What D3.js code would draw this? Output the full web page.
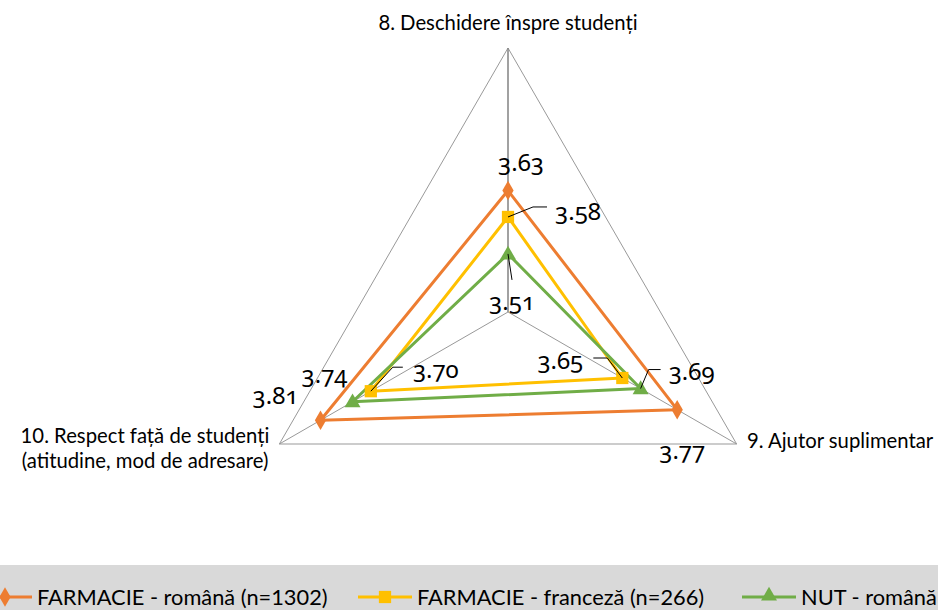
<!DOCTYPE html>
<html>
<head>
<meta charset="utf-8">
<script src="https://cdn.jsdelivr.net/npm/d3@7"></script>
<style>
  html, body { margin: 0; padding: 0; background: #fff; }
  svg text { font-family: Lato, "Noto Sans", sans-serif; fill: #000; }
  svg text.dl { font-family: "Noto Sans", Lato, sans-serif; font-feature-settings: "onum" 1; font-variant-numeric: oldstyle-nums; }
</style>
</head>
<body>
<svg id="chart" width="938" height="610"></svg>
<script>
// ---- data ----
const categories = [
  ["8. Deschidere înspre studenți"],
  ["9. Ajutor suplimentar"],
  ["10. Respect față de studenți", "(atitudine, mod de adresare)"]
];
const seriesNames = ["FARMACIE - română (n=1302)", "FARMACIE - franceză (n=266)", "NUT - română"];
const farmacieRomana = [3.63, 3.77, 3.81];
const farmacieFranceza = [3.58, 3.65, 3.70];
const nutRomana = [3.51, 3.69, 3.74];
const axisMin = 3.4, axisMax = 3.9;

// ---- layout / style ----
const W = 938, H = 610;
const cx = 508, cy = 312, R = 264;
const colors = ["#ED7D31", "#FFC000", "#70AD47"];
const shapes = [d3.symbolDiamond, d3.symbolSquare, d3.symbolTriangle];
const seriesValues = [farmacieRomana, farmacieFranceza, nutRomana];

const svg = d3.select("#chart");
const r = d3.scaleLinear().domain([axisMin, axisMax]).range([0, R]);
const angle = d3.scaleLinear().domain([0, categories.length]).range([0, 2 * Math.PI]);
const pt = (i, v) => [cx + r(v) * Math.sin(angle(i)), cy - r(v) * Math.cos(angle(i))];

// grid
const outer = categories.map((c, i) => pt(i, axisMax));
svg.append("polygon")
  .attr("points", outer.map(p => p.join(",")).join(" "))
  .attr("fill", "none").attr("stroke", "#999").attr("stroke-width", 1);
categories.forEach((c, i) => {
  svg.append("line")
    .attr("x1", cx).attr("y1", cy)
    .attr("x2", outer[i][0]).attr("y2", outer[i][1])
    .attr("stroke", i === 0 ? "#8a8a8a" : "#999")
    .attr("stroke-width", i === 0 ? 1.6 : 1);
});

// category labels
const catPos = [
  {x: 508, y: 30, anchor: "middle"},
  {x: 747, y: 448, anchor: "start"},
  {x: 145, y: 443, anchor: "middle"}
];
categories.forEach((lines, i) => {
  const t = svg.append("text")
    .attr("x", catPos[i].x).attr("y", catPos[i].y)
    .attr("text-anchor", catPos[i].anchor)
    .style("font-size", "20.3px");
  lines.forEach((l, j) => t.append("tspan").attr("x", catPos[i].x).attr("dy", j === 0 ? 0 : 25).text(l));
});

// series
const line = d3.line().curve(d3.curveLinearClosed);
seriesValues.forEach((vals, s) => {
  const pts = vals.map((v, i) => pt(i, v));
  svg.append("path")
    .attr("d", line(pts))
    .attr("fill", "none")
    .attr("stroke", colors[s])
    .attr("stroke-width", 3)
    .attr("stroke-linejoin", "round");
});
seriesValues.forEach((vals, s) => {
  vals.forEach((v, i) => {
    const p = pt(i, v);
    const size = s === 0 ? 110 : (s === 1 ? 150 : 110);
    svg.append("path")
      .attr("d", d3.symbol().type(shapes[s]).size(size)())
      .attr("transform", `translate(${p[0]},${p[1] + (s === 2 ? 1 : 0)})`)
      .attr("fill", colors[s]);
  });
});

// data labels: offsets relative to marker [dx, dy], optional leader (relative points)
const labelCfg = [
  [ {dx: 13, dy: -20}, {dx: 5, dy: 49}, {dx: -45, dy: -16} ],
  [ {dx: 70, dy: 3, leader: [[25, -10], [39, -10]]},
    {dx: -62, dy: -9, leader: [[-15, -20], [-29, -20]]},
    {dx: 65, dy: -13, leader: [[22, -24], [32, -24]]} ],
  [ {dx: 4, dy: 56, leader: [[4, 26]]},
    {dx: 51, dy: -9, leader: [[8, -19], [20, -19]]},
    {dx: -28, dy: -19} ]
];
seriesValues.forEach((vals, s) => {
  vals.forEach((v, i) => {
    const p = pt(i, v);
    const c = labelCfg[s][i];
    if (c.leader) {
      const lp = [p].concat(c.leader.map(q => [p[0] + q[0], p[1] + q[1]]));
      svg.append("path").attr("d", d3.line()(lp))
        .attr("fill", "none").attr("stroke", "#000").attr("stroke-width", 1);
    }
    svg.append("text").attr("class", "dl")
      .attr("x", p[0] + c.dx).attr("y", p[1] + c.dy)
      .attr("text-anchor", "middle")
      .style("font-size", "24px")
      .text(v.toFixed(2));
  });
});

// legend
svg.append("rect").attr("x", 0).attr("y", 565).attr("width", W).attr("height", H - 565).attr("fill", "#D9D9D9");
const legX = [-22, 358, 742];
const legY = 597;
seriesNames.forEach((name, s) => {
  const g = svg.append("g");
  g.append("line").attr("x1", legX[s]).attr("x2", legX[s] + 54)
    .attr("y1", legY).attr("y2", legY)
    .attr("stroke", colors[s]).attr("stroke-width", 3);
  g.append("path")
    .attr("d", d3.symbol().type(shapes[s]).size(s === 1 ? 150 : 110)())
    .attr("transform", `translate(${legX[s] + 27},${legY + (s === 2 ? -1 : 0)})`)
    .attr("fill", colors[s]);
  g.append("text").attr("x", legX[s] + 59).attr("y", legY + 8)
    .style("font-size", "21.8px")
    .text(name);
});
</script>
</body>
</html>
